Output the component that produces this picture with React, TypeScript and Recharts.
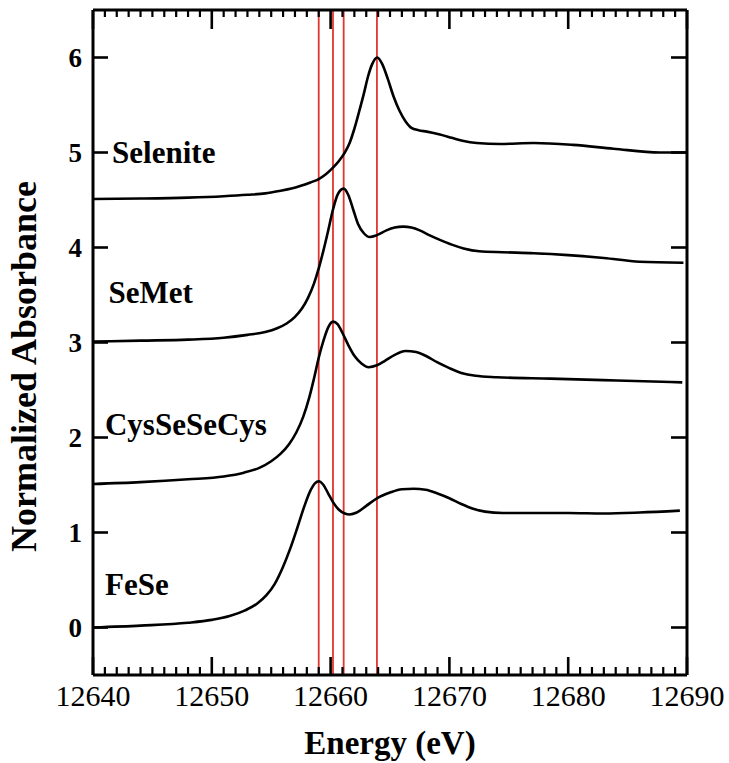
import React from 'react';
import { LineChart, Line, XAxis, YAxis, ReferenceLine, ReferenceDot } from 'recharts';

const FONT = '"Liberation Serif", "Times New Roman", Times, serif';

// Energy grid (eV) and normalized absorbance per spectrum
const seleniteE = [12640, 12644, 12648, 12651, 12653, 12654.5, 12655.7, 12656.7, 12657.5, 12658.3, 12659.0, 12659.6, 12660.2, 12660.7, 12661.15, 12661.6, 12662.0, 12662.4, 12662.8, 12663.15, 12663.5, 12663.93, 12664.35, 12664.8, 12665.3, 12665.8, 12666.3, 12666.8, 12667.4, 12668.1, 12669.2, 12670.2, 12671.2, 12672.3, 12674.3, 12677.1, 12680.4, 12683.8, 12687.7, 12690];
const seleniteA = [4.51, 4.515, 4.525, 4.54, 4.555, 4.57, 4.595, 4.62, 4.65, 4.685, 4.72, 4.77, 4.84, 4.91, 4.99, 5.10, 5.25, 5.43, 5.62, 5.80, 5.93, 6.00, 5.93, 5.78, 5.59, 5.44, 5.33, 5.26, 5.235, 5.22, 5.19, 5.155, 5.12, 5.10, 5.09, 5.10, 5.08, 5.04, 5.00, 5.00];

const semetE = [12640, 12644, 12648, 12651, 12653, 12654.5, 12655.5, 12656.3, 12657.0, 12657.6, 12658.1, 12658.6, 12659.0, 12659.4, 12659.8, 12660.2, 12660.6, 12661.1, 12661.5, 12661.9, 12662.3, 12662.8, 12663.3, 12663.9, 12664.7, 12665.4, 12666.1, 12666.8, 12667.5, 12668.3, 12669.2, 12670.2, 12671.2, 12672.5, 12674.5, 12677.1, 12680, 12683, 12686, 12689.7];
const semetA = [3.01, 3.02, 3.03, 3.05, 3.08, 3.11, 3.15, 3.20, 3.27, 3.36, 3.47, 3.62, 3.78, 3.97, 4.18, 4.40, 4.56, 4.62, 4.55, 4.40, 4.25, 4.15, 4.11, 4.13, 4.18, 4.21, 4.22, 4.21, 4.18, 4.13, 4.08, 4.03, 3.99, 3.96, 3.95, 3.94, 3.92, 3.89, 3.85, 3.84];

const cysE = [12640, 12644, 12648, 12651, 12652.7, 12654.0, 12655.0, 12655.8, 12656.5, 12657.1, 12657.7, 12658.2, 12658.6, 12659.0, 12659.4, 12659.8, 12660.2, 12660.6, 12661.0, 12661.5, 12662.0, 12662.6, 12663.2, 12663.9, 12664.6, 12665.4, 12666.3, 12667.2, 12668.0, 12669.0, 12670.0, 12671.0, 12672.2, 12674, 12678.5, 12684.1, 12689.6];
const cysA = [1.51, 1.53, 1.56, 1.59, 1.63, 1.68, 1.75, 1.83, 1.93, 2.05, 2.22, 2.42, 2.62, 2.84, 3.02, 3.16, 3.22, 3.19, 3.10, 2.97, 2.86, 2.78, 2.74, 2.76, 2.81, 2.87, 2.91, 2.90, 2.86, 2.79, 2.73, 2.68, 2.65, 2.635, 2.62, 2.60, 2.58];

const feseE = [12640, 12644, 12648, 12650, 12651.5, 12652.8, 12653.8, 12654.6, 12655.3, 12656.0, 12656.6, 12657.2, 12657.8, 12658.3, 12658.7, 12659.0, 12659.4, 12659.8, 12660.2, 12660.7, 12661.2, 12661.6, 12662.2, 12663.0, 12663.9, 12665.0, 12666.0, 12667.0, 12668.0, 12669.0, 12670.0, 12671.0, 12672.0, 12673.0, 12674.5, 12677, 12680, 12683, 12686, 12689.4];
const feseA = [0.00, 0.02, 0.05, 0.08, 0.12, 0.18, 0.25, 0.34, 0.46, 0.64, 0.83, 1.05, 1.28, 1.44, 1.52, 1.54, 1.50, 1.41, 1.32, 1.24, 1.20, 1.19, 1.21, 1.28, 1.36, 1.42, 1.455, 1.46, 1.45, 1.41, 1.36, 1.30, 1.25, 1.22, 1.205, 1.205, 1.205, 1.20, 1.21, 1.23];

// Reference energies (red vertical lines)
const markerEnergies = [12659.0, 12660.2, 12661.1, 12663.9];

// Curve labels
const labelNames = ['Selenite', 'SeMet', 'CysSeSeCys', 'FeSe'];
const labelE = [12641.6, 12641.3, 12641.0, 12641.0];
const labelA = [5.01, 3.535, 2.147, 0.458];

// Ticks
const xMajorTicks = [12640, 12650, 12660, 12670, 12680, 12690];
const xAllTicks = [
  12640, 12641, 12642, 12643, 12644, 12645, 12646, 12647, 12648, 12649,
  12650, 12651, 12652, 12653, 12654, 12655, 12656, 12657, 12658, 12659,
  12660, 12661, 12662, 12663, 12664, 12665, 12666, 12667, 12668, 12669,
  12670, 12671, 12672, 12673, 12674, 12675, 12676, 12677, 12678, 12679,
  12680, 12681, 12682, 12683, 12684, 12685, 12686, 12687, 12688, 12689, 12690,
];
const yTicks = [0, 1, 2, 3, 4, 5, 6];

const toPoints = (xs: number[], ys: number[]) => xs.map((x, i) => ({ x, y: ys[i] }));
const series = [
  { name: 'Selenite', data: toPoints(seleniteE, seleniteA) },
  { name: 'SeMet', data: toPoints(semetE, semetA) },
  { name: 'CysSeSeCys', data: toPoints(cysE, cysA) },
  { name: 'FeSe', data: toPoints(feseE, feseA) },
];

const isMajor = (v: number) => xMajorTicks.indexOf(v) >= 0;

const BottomTick = (props: any) => {
  const { x, y, payload } = props;
  const v = payload.value;
  const major = isMajor(v);
  return (
    <g>
      <line x1={x} y1={y} x2={x} y2={y - (major ? 18 : 8)} stroke="#000" strokeWidth={major ? 2.6 : 2.2} />
      {major && (
        <text x={x} y={y + 31} textAnchor="middle" fontSize={30} fontFamily={FONT} fill="#000">
          {v}
        </text>
      )}
    </g>
  );
};

const TopTick = (props: any) => {
  const { x, y, payload } = props;
  const major = isMajor(payload.value);
  return <line x1={x} y1={y} x2={x} y2={y + (major ? 19 : 7)} stroke="#000" strokeWidth={major ? 2.6 : 2.2} />;
};

const LeftTick = (props: any) => {
  const { x, y, payload } = props;
  return (
    <g>
      <line x1={x} y1={y} x2={x + 15} y2={y} stroke="#000" strokeWidth={2.6} />
      <text x={x - 11} y={y + 9} textAnchor="end" fontSize={27} fontWeight="bold" fontFamily={FONT} fill="#000">
        {payload.value}
      </text>
    </g>
  );
};

const RightTick = (props: any) => {
  const { x, y } = props;
  return <line x1={x} y1={y} x2={x - 16} y2={y} stroke="#000" strokeWidth={2.6} />;
};

const XTitle = (props: any) => {
  const vb = props.viewBox || {};
  const cx = vb.x + vb.width / 2;
  const cy = vb.y + 79;
  return (
    <text x={cx} y={cy} textAnchor="middle" fontSize={33} fontWeight="bold" fontFamily={FONT} fill="#000">
      Energy (eV)
    </text>
  );
};

const YTitle = (props: any) => {
  const vb = props.viewBox || {};
  const cx = vb.x + 1;
  const cy = vb.y + vb.height / 2 + 24;
  return (
    <text
      x={cx}
      y={cy}
      transform={`rotate(-90 ${cx} ${cy})`}
      textAnchor="middle"
      dominantBaseline="central"
      fontSize={36}
      fontWeight="bold"
      fontFamily={FONT}
      fill="#000"
    >
      Normalized Absorbance
    </text>
  );
};

const axisLineStyle = { stroke: '#000', strokeWidth: 3 };

export default function App() {
  return (
    <div style={{ position: 'absolute', left: 0, top: 0, background: '#fff' }}>
      <LineChart width={729} height={763} margin={{ top: 9, right: 41, bottom: 8, left: 23 }}>
        <XAxis
          dataKey="x"
          type="number"
          domain={[12640, 12690]}
          ticks={xAllTicks}
          interval={0}
          tickSize={0}
          tickMargin={0}
          tick={BottomTick}
          axisLine={axisLineStyle}
          tickLine={false}
          height={80}
          allowDataOverflow
          label={{ content: XTitle }}
        />
        <XAxis
          xAxisId="top"
          orientation="top"
          dataKey="x"
          type="number"
          domain={[12640, 12690]}
          ticks={xAllTicks}
          interval={0}
          tickSize={0}
          tickMargin={0}
          tick={TopTick}
          axisLine={axisLineStyle}
          tickLine={false}
          height={1}
          allowDataOverflow
        />
        <YAxis
          type="number"
          domain={[-0.5, 6.5]}
          ticks={yTicks}
          interval={0}
          tickSize={0}
          tickMargin={0}
          tick={LeftTick}
          axisLine={axisLineStyle}
          tickLine={false}
          width={70}
          allowDataOverflow
          label={{ content: YTitle }}
        />
        <YAxis
          yAxisId="right"
          orientation="right"
          type="number"
          domain={[-0.5, 6.5]}
          ticks={yTicks}
          interval={0}
          tickSize={0}
          tickMargin={0}
          tick={RightTick}
          axisLine={axisLineStyle}
          tickLine={false}
          width={1}
          allowDataOverflow
        />
        {markerEnergies.map((e) => (
          <ReferenceLine key={e} x={e} stroke="#e3342f" strokeWidth={1.8} />
        ))}
        {series.map((s) => (
          <Line
            key={s.name}
            data={s.data}
            dataKey="y"
            name={s.name}
            type="monotone"
            stroke="#000"
            strokeWidth={2.6}
            dot={false}
            activeDot={false}
            isAnimationActive={false}
          />
        ))}
        {labelNames.map((n, i) => (
          <ReferenceDot
            key={n}
            x={labelE[i]}
            y={labelA[i]}
            r={0.1}
            fill="none"
            stroke="none"
            label={{ value: n, position: 'right', offset: 0, fill: '#000', fontSize: 31, fontWeight: 'bold', fontFamily: FONT }}
          />
        ))}
      </LineChart>
    </div>
  );
}
